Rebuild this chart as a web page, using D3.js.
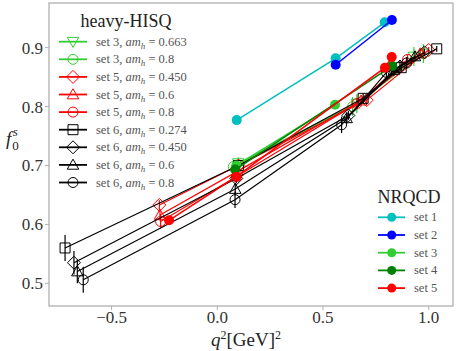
<!DOCTYPE html>
<html>
<head>
<meta charset="utf-8">
<script src="https://cdn.jsdelivr.net/npm/d3@7"></script>
<style>
  body { margin: 0; background: #fff; }
  text { font-family: "Liberation Serif", "DejaVu Serif", serif; }
</style>
</head>
<body>
<script>
// axis ticks
const xTicks = [-0.5, 0.0, 0.5, 1.0];
const yTicks = [0.5, 0.6, 0.7, 0.8, 0.9];

// heavy-HISQ points: [q2, f0, err]
const set3_0663 = [[0.099, 0.704, 0.010], [0.66, 0.805, 0.016], [0.93, 0.885, 0.016]];
const set3_08   = [[0.076, 0.698, 0.010], [0.64, 0.800, 0.016], [0.975, 0.890, 0.016]];
const set5_045  = [[-0.274, 0.633, 0.008], [0.10, 0.700, 0.006], [0.707, 0.811, 0.006], [1.0, 0.896, 0.005]];
const set5_06   = [[-0.271, 0.616, 0.010], [0.095, 0.690, 0.008], [0.68, 0.810, 0.008], [0.96, 0.890, 0.006]];
const set5_08   = [[-0.268, 0.605, 0.012], [0.09, 0.681, 0.010], [0.66, 0.805, 0.010], [0.90, 0.880, 0.008]];
const set6_0274 = [[-0.72, 0.560, 0.022], [0.10, 0.700, 0.008], [0.69, 0.814, 0.008], [0.87, 0.866, 0.006], [1.038, 0.898, 0.005]];
const set6_045  = [[-0.678, 0.535, 0.020], [0.09, 0.678, 0.008], [0.62, 0.785, 0.008], [0.864, 0.868, 0.010], [0.98, 0.892, 0.006]];
const set6_06   = [[-0.662, 0.520, 0.020], [0.085, 0.660, 0.010], [0.612, 0.780, 0.010], [0.835, 0.862, 0.010], [0.935, 0.885, 0.008]];
const set6_08   = [[-0.634, 0.506, 0.022], [0.084, 0.642, 0.014], [0.588, 0.769, 0.014], [0.80, 0.858, 0.012], [0.896, 0.874, 0.010]];

const hisqLabels = ["set 3", "set 3", "set 5", "set 5", "set 5", "set 6", "set 6", "set 6", "set 6"];
const hisqMasses = ["0.663", "0.8", "0.450", "0.6", "0.8", "0.274", "0.450", "0.6", "0.8"];
const hisqMarkers = ["tridown", "circle", "diamond", "triangle", "circle", "square", "diamond", "triangle", "circle"];
const hisqColors = ["#32cd32", "#32cd32", "#ff0000", "#ff0000", "#ff0000", "#000", "#000", "#000", "#000"];
const hisqData = [set3_0663, set3_08, set5_045, set5_06, set5_08, set6_0274, set6_045, set6_06, set6_08];

// NRQCD points: [q2, f0]
const nrqcd1 = [[0.092, 0.777], [0.56, 0.882], [0.792, 0.943]];
const nrqcd2 = [[0.56, 0.871], [0.826, 0.947]];
const nrqcd3 = [[0.09, 0.700], [0.557, 0.803]];
const nrqcd4 = [[0.085, 0.693], [0.828, 0.869]];
const nrqcd5 = [[-0.228, 0.607], [0.09, 0.681], [0.793, 0.866], [0.825, 0.884]];
const nrqcdLabels = ["set 1", "set 2", "set 3", "set 4", "set 5"];
const nrqcdColors = ["#00bfbf", "#0000ff", "#32cd32", "#008000", "#ff0000"];
const nrqcdData = [nrqcd1, nrqcd2, nrqcd3, nrqcd4, nrqcd5];

const width = 457, height = 351;
const svg = d3.select('body').append('svg')
    .attr('width', width).attr('height', height);

const x = d3.scaleLinear().domain([-0.796, 1.115]).range([49, 453]);
const y = d3.scaleLinear().domain([0.4615, 0.9758]).range([306, 3]);

function markerPath(type, s) {
    if (type === 'circle') return `M${s},0A${s},${s},0,1,1,${-s},0A${s},${s},0,1,1,${s},0Z`;
    if (type === 'square') return `M${-s},${-s}H${s}V${s}H${-s}Z`;
    if (type === 'diamond') { let d = s * 1.3; return `M0,${-d}L${d},0L0,${d}L${-d},0Z`; }
    if (type === 'triangle') { let d = s * 1.15; return `M0,${-d}L${d},${d * 0.75}L${-d},${d * 0.75}Z`; }
    if (type === 'tridown') { let d = s * 1.15; return `M0,${d}L${d},${-d * 0.75}L${-d},${-d * 0.75}Z`; }
}

const line = d3.line().x(d => x(d[0])).y(d => y(d[1]));
const plot = svg.append('g');

// heavy-HISQ lines, error bars, markers
hisqData.forEach((pts, i) => {
    let c = hisqColors[i];
    plot.append('path').attr('d', line(pts))
        .attr('fill', 'none').attr('stroke', c).attr('stroke-width', 1.2);
    plot.selectAll(null).data(pts).enter().append('line')
        .attr('x1', d => x(d[0])).attr('x2', d => x(d[0]))
        .attr('y1', d => y(d[1] - d[2])).attr('y2', d => y(d[1] + d[2]))
        .attr('stroke', c).attr('stroke-width', 1.2);
    plot.selectAll(null).data(pts).enter().append('path')
        .attr('d', markerPath(hisqMarkers[i], 5))
        .attr('transform', d => `translate(${x(d[0])},${y(d[1])})`)
        .attr('fill', 'none').attr('stroke', c).attr('stroke-width', 1);
});

// NRQCD
nrqcdData.forEach((pts, i) => {
    let c = nrqcdColors[i];
    plot.append('path').attr('d', line(pts))
        .attr('fill', 'none').attr('stroke', c).attr('stroke-width', 1.5);
    plot.selectAll(null).data(pts).enter().append('circle')
        .attr('cx', d => x(d[0])).attr('cy', d => y(d[1])).attr('r', 5)
        .attr('fill', c);
});

// frame
svg.append('rect').attr('x', 49).attr('y', 3).attr('width', 404).attr('height', 303)
    .attr('fill', 'none').attr('stroke', '#b0b0b0').attr('stroke-width', 1.3);

// ticks
const xAxis = svg.append('g');
xTicks.forEach(t => {
    xAxis.append('line').attr('x1', x(t)).attr('x2', x(t)).attr('y1', 306).attr('y2', 310)
        .attr('stroke', '#b0b0b0').attr('stroke-width', 1);
    xAxis.append('text').attr('x', x(t)).attr('y', 323).attr('text-anchor', 'middle')
        .attr('font-size', 17).attr('fill', '#333')
        .text(d3.format('.1f')(t).replace('-', '\u2212'));
});
const yAxis = svg.append('g');
yTicks.forEach(t => {
    yAxis.append('line').attr('x1', 45).attr('x2', 49).attr('y1', y(t)).attr('y2', y(t))
        .attr('stroke', '#b0b0b0').attr('stroke-width', 1);
    yAxis.append('text').attr('x', 43).attr('y', y(t) + 6).attr('text-anchor', 'end')
        .attr('font-size', 17).attr('fill', '#333')
        .text(d3.format('.1f')(t));
});

// axis labels
let xl = svg.append('text').attr('x', 246).attr('y', 346).attr('text-anchor', 'middle')
    .attr('font-size', 19).attr('fill', '#222');
xl.append('tspan').attr('font-style', 'italic').text('q');
xl.append('tspan').attr('font-size', 12).attr('dy', -7).text('2');
xl.append('tspan').attr('dy', 7).text('[GeV]');
xl.append('tspan').attr('font-size', 12).attr('dy', -7).text('2');

let yl = svg.append('text').attr('x', 6).attr('y', 145).attr('font-size', 19).attr('fill', '#222');
yl.append('tspan').attr('font-style', 'italic').text('f');
yl.append('tspan').attr('font-size', 13).attr('dy', 5).attr('dx', 1).text('0');
yl.append('tspan').attr('font-size', 13).attr('font-style', 'italic').attr('dy', -14).attr('dx', -6).text('s');

// heavy-HISQ legend
const leg1 = svg.append('g');
leg1.append('text').attr('x', 126).attr('y', 27).attr('text-anchor', 'middle')
    .attr('font-size', 18).attr('fill', '#222').text('heavy-HISQ');
hisqLabels.forEach((lab, i) => {
    let ly = 41.7 + i * 17.6;
    let c = hisqColors[i];
    leg1.append('line').attr('x1', 59).attr('x2', 87).attr('y1', ly).attr('y2', ly)
        .attr('stroke', c).attr('stroke-width', 1.8);
    leg1.append('path').attr('d', markerPath(hisqMarkers[i], 5))
        .attr('transform', `translate(73,${ly})`)
        .attr('fill', 'none').attr('stroke', c).attr('stroke-width', 1);
    let t = leg1.append('text').attr('x', 96).attr('y', ly + 4).attr('font-size', 12.5).attr('fill', '#555');
    t.append('tspan').text(lab + ', ');
    t.append('tspan').attr('font-style', 'italic').text('am');
    t.append('tspan').attr('font-style', 'italic').attr('font-size', 9).attr('dy', 3).text('h');
    t.append('tspan').attr('dy', -3).text(' = ' + hisqMasses[i]);
});

// NRQCD legend
const leg2 = svg.append('g');
leg2.append('text').attr('x', 409).attr('y', 203).attr('text-anchor', 'middle')
    .attr('font-size', 18).attr('fill', '#222').text('NRQCD');
nrqcdLabels.forEach((lab, i) => {
    let ly = 217.3 + i * 17.7;
    let c = nrqcdColors[i];
    leg2.append('line').attr('x1', 378).attr('x2', 405).attr('y1', ly).attr('y2', ly)
        .attr('stroke', c).attr('stroke-width', 1.8);
    leg2.append('circle').attr('cx', 391.7).attr('cy', ly).attr('r', 4.5).attr('fill', c);
    leg2.append('text').attr('x', 414).attr('y', ly + 4).attr('font-size', 12.5).attr('fill', '#555').text(lab);
});
</script>
</body>
</html>
